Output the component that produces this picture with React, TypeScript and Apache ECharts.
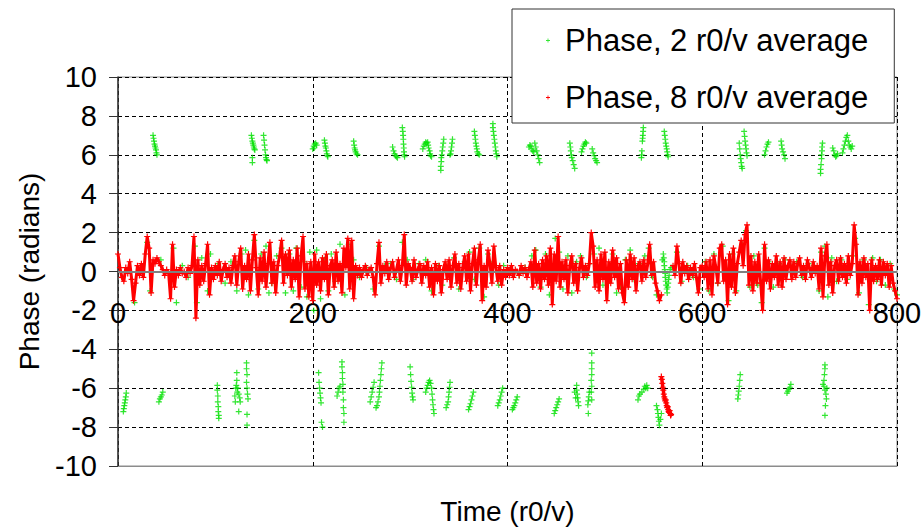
import React, { useEffect, useRef } from 'react';
import * as echarts from 'echarts';

const seriesNames = ['Phase, 2 r0/v average', 'Phase, 8 r0/v average'];
const xAxisTitle = 'Time (r0/v)';
const yAxisTitle = 'Phase (radians)';

// 8 r0/v average, sampled every 2 r0/v starting at t = 0 ('-' = phase wrapped, see redWrapped)
const redStart = 0;
const redStep = 2;
const redPhase: (number | string)[] = [
  0.9, 0.2, -0.3, -0.5, 0.2, -0.1, 0.5, -0.4, -1.5, -0.6,
  0.3, -0.2, 0.4, -0.3, 0.9, 1.8, 1.2, -1.1, 0.6, 0.4,
  0.7, 0.5, 0.3, 0.1, -0.2, 0.1, -0.1, -1.4, 1.4, -0.8,
  0.1, -0.2, 0.2, -0.1, 0.0, -0.3, 0.2, -0.1, 0.3, 1.8,
  -2.4, 0.6, -0.7, 0.3, -0.5, 0.4, 1.4, -1.2, 0.2, -0.4,
  0.3, -0.2, 0.5, -0.5, 0.1, 0.4, -0.3, 0.2, -0.6, 0.3,
  0.8, -0.7, 0.5, 1.2, -0.9, 0.3, -0.4, 0.9, -1.0, 0.6,
  1.9, 0.2, -1.2, 0.7, -0.5, 1.0, -0.8, 0.4, 1.5, -0.6,
  0.5, -1.1, 0.3, 0.8, 1.6, -0.6, 0.9, -0.2, 1.1, -0.8,
  0.6, -0.4, 1.2, -1.3, 0.8, 1.8, -0.9, 0.4, -1.3, 0.5,
  -1.5, 0.9, -0.7, 0.5, -1.0, 0.7, -0.4, 0.9, -1.2, 0.3,
  0.6, -0.8, 1.0, -0.5, 0.4, -1.1, 1.2, 0.2, 1.7, -0.9,
  1.6, -1.4, 0.3, -0.2, 0.2, -0.3, 0.1, 0.3, -0.2, 0.1,
  0.2, -0.3, -1.2, 0.4, 1.5, -0.6, 0.3, -0.1, 0.5, -0.4,
  0.2, 0.5, -0.3, 0.1, 0.6, -0.5, 0.3, 1.9, -0.7, 0.4,
  0.2, -0.5, 0.6, -0.3, 0.1, 0.4, -0.6, 0.3, -0.2, 0.5,
  -0.8, 0.2, -1.2, 0.4, -0.5, 0.3, -1.1, 0.1, 0.5, -0.4,
  0.6, -0.8, 0.3, 0.9, -0.6, 0.4, -0.9, 0.2, 0.8, -0.5,
  0.9, -1.0, 0.4, 1.2, -0.7, 0.6, 1.4, -1.5, 0.3, -0.8,
  1.1, 0.4, -0.6, 1.3, 0.2, -0.5, 0.3, -0.7, 0.1, -0.3,
  0.2, -0.2, 0.3, -0.3, 0.1, 0.0, -0.2, 0.3, -0.1, 0.2,
  -0.3, 0.1, 0.5, -0.8, 1.1, -0.6, 0.4, -0.9, 0.6, -0.4,
  0.8, -0.7, 1.2, -1.7, 0.9, -0.5, 1.8, -0.8, 0.5, -0.4,
  0.6, -1.1, 0.3, 0.8, -0.6, 0.4, -1.0, 0.2, 0.7, -0.3,
  0.3, -0.2, 0.4, 2.0, 1.3, -0.8, 0.6, -1.0, 0.9, -0.4,
  1.0, -1.5, 0.5, -0.6, 1.1, -0.3, 0.7, -0.9, 0.4, -1.1,
  -1.6, 0.6, -0.8, 0.9, -0.4, 0.7, -1.0, 0.3, 0.5, -0.5,
  0.6, -0.3, 0.4, 1.4, -0.2, 0.5, -0.6, -1.0, -1.5, -1.2,
  '-', '-', '-', '-', '-', 0.3, -0.2, 1.3, 0.4, -0.6,
  0.5, -0.1, 0.3, -0.4, 0.2, -0.2, 0.4, -0.3, -1.1, 0.2,
  0.3, -0.3, 0.5, -0.9, 0.6, -1.2, 0.8, 0.2, -0.6, 1.2,
  1.4, -0.5, 0.6, -1.7, 0.9, -0.8, 1.2, -1.1, 0.4, 1.0,
  1.6, 0.3, 1.9, 2.4, -0.7, 0.8, -1.0, 0.5, -0.6, 0.9,
  -0.6, -2.0, 1.4, -0.5, 0.6, -0.9, 0.4, -0.3, 0.8, -0.7,
  0.5, -0.8, 0.7, -0.4, 0.3, 0.6, -0.4, 0.5, -0.3, 0.4,
  0.7, -0.2, 0.3, -0.4, 0.6, 0.2, -0.3, 0.5, -0.1, 0.3,
  -0.9, 1.2, -1.3, 0.8, 1.4, -0.7, 0.5, -1.1, 0.3, 0.6,
  -0.5, 0.7, -0.3, 0.4, -0.6, 0.8, -0.2, 0.4, 2.4, 1.4,
  -1.2, 0.5, -0.6, 0.7, -0.3, 0.4, -2.0, 0.6, -0.5, 0.3,
  -0.4, 0.6, -0.7, 0.5, -0.2, 0.4, -0.8, 0.3, -0.6, -1.0,
  -1.4,
];

// 8 r0/v average where the phase wrapped below -pi
const redWrapped: [number, number][] = [
  [558, -5.4], [558.5, -5.55], [559, -5.75], [559.5, -5.95], [560, -6.1], [560.5, -6.3], [561, -6.45],
  [561.5, -6.55], [562, -6.65], [562.5, -6.6], [563, -6.75], [563.5, -6.9], [564, -7.0], [564.5, -6.95],
  [565, -7.1], [565.5, -7.2], [566, -7.25], [566.5, -7.15], [567, -7.3], [567.5, -7.4], [568, -7.35],
];

// 2 r0/v average, points near zero that show around the red band
const greenNearZero: [number, number][] = [
  [17, -1.6], [30, 1.5], [33, -1.0], [44, 0.6], [57, 1.2], [60, -1.6], [66, 0.3], [72, -0.3], [79, 1.3], [81, -1.6],
  [86, 0.7], [92, -1.0], [95, 0.9], [103, 0.4], [110, -0.6], [116, 0.5], [122, -1.0], [127, 0.9], [131, 1.1], [134, -1.2],
  [140, 1.6], [144, -0.9], [147, 0.9], [152, 1.3], [155, -1.1], [158, -0.6], [163, 0.8], [168, 1.2], [172, -1.1], [176, 0.9],
  [180, -1.0], [183, 1.2], [188, -0.8], [191, 0.5], [194, -1.3], [197, 1.0], [201, -2.0], [204, 1.1], [208, -1.4], [212, 0.6],
  [216, -1.0], [219, 0.9], [223, -0.5], [228, 1.4], [233, -1.2], [237, 1.4], [242, 0.6], [248, -0.3], [255, 0.2], [262, -0.9],
  [268, 1.3], [274, 0.3], [280, 0.4], [286, -0.4], [292, 1.5], [297, 0.6], [303, -0.4], [309, 0.4], [316, 0.6], [322, -1.0],
  [329, 0.3], [333, -0.7], [339, 0.3], [345, 0.7], [350, -0.9], [356, 0.5], [361, 1.0], [366, -0.4], [371, 1.2], [376, -1.3],
  [380, 0.9], [384, 0.4], [391, -0.7], [396, 0.3], [404, 0.1], [412, -0.2], [418, 0.2], [425, 0.8], [429, 1.1], [434, -0.8],
  [439, 0.9], [443, -1.2], [449, 1.7], [453, 1.0], [457, -0.9], [462, 0.8], [466, -1.1], [471, 0.5], [475, 0.8], [481, -0.3],
  [484, 0.4], [489, 0.9], [494, 1.2], [498, -0.7], [503, -0.6], [508, 0.9], [512, -1.1], [516, -0.8], [521, 0.6], [526, 1.1],
  [530, -0.4], [535, 0.4], [541, 0.8], [545, 1.2], [549, -0.3], [553, -1.2],
  [559, 0.6], [560, 0.9], [560.5, 0.7], [561, 0.5], [561, 0.3], [561.5, 0.1], [562, -0.1], [562, -0.3], [562.5, -0.5],
  [563, -0.7], [563.5, -0.9], [564, -1.1], [564.5, -0.8], [565, -0.6], [565.5, -0.4], [566, -0.2], [567, 0.1], [568, 0.2],
  [574, 1.0], [579, -0.5], [585, 0.3], [591, -0.3], [597, -0.9], [603, 0.5], [607, -1.0], [612, 0.9], [616, -0.6], [621, 1.3],
  [627, -1.5], [631, 0.9], [635, -1.0], [641, 1.4], [645, 2.1], [649, -0.8], [653, 0.8], [657, -0.7], [661, -1.6], [664, 1.2],
  [668, 0.5], [673, -0.8], [679, 0.4], [685, 0.6], [691, 0.3], [697, 0.5], [703, -0.3], [709, 0.4], [715, 0.3], [720, -1.0],
  [722, 1.0], [726, 1.3], [729, -1.3], [733, 0.7], [738, -0.5], [743, 0.6], [749, -0.4], [755, 0.8], [757, 1.7], [761, -1.1],
  [766, 0.6], [771, -1.7], [775, 0.7], [779, -0.5], [783, 0.6], [788, -0.7], [793, 0.4], [797, -0.9], [800, -1.2],
];

// 2 r0/v average, phase wrapped above +pi
const greenUpper: [number, number][] = [
  [36, 7.0], [36.5, 6.85], [37, 6.7], [37.5, 6.55], [38, 6.45], [38.5, 6.35], [39, 6.25], [39.5, 6.1], [40, 6.0],
  [137, 7.0], [137.5, 6.85], [138, 6.7], [138.5, 6.6], [139, 6.5], [139.5, 6.4], [140, 6.3], [140.5, 6.25], [138, 5.85], [138, 5.6],
  [149.5, 7.0], [150, 6.75], [150.5, 6.5], [151, 6.25], [151.5, 6.0], [152, 5.85], [152.5, 5.75], [153, 5.7],
  [200, 6.3], [201, 6.45], [202, 6.55], [203, 6.6], [204, 6.5], [201.5, 6.35],
  [212, 6.75], [212.5, 6.6], [213, 6.45], [213.5, 6.35], [214, 6.2], [214.5, 6.05], [215, 5.95], [215.5, 5.9],
  [242, 6.7], [242.5, 6.5], [243, 6.35], [243.5, 6.25], [244, 6.15], [245, 6.05], [246, 6.0],
  [282, 6.4], [283, 6.2], [284, 6.05], [285, 5.95], [286, 5.9], [287, 5.85],
  [292, 7.4], [292.5, 7.2], [292.8, 7.0], [293, 6.8], [293.2, 6.55], [293.5, 6.35], [293.7, 6.15], [294, 6.0], [294.3, 5.9],
  [313, 6.3], [314, 6.45], [315, 6.55], [316, 6.65], [317, 6.6],
  [318, 6.65], [318.5, 6.5], [319, 6.35], [320, 6.2], [320.5, 6.05], [321, 5.95], [322, 5.9],
  [334.5, 6.8], [334, 6.6], [333.5, 6.4], [333, 6.2], [332.5, 6.0], [332, 5.85], [332, 5.65], [331.5, 5.4], [331.5, 5.2],
  [343.5, 6.8], [343, 6.6], [342.5, 6.4], [342, 6.2], [341.5, 6.05], [341, 6.0],
  [366, 7.2], [366.5, 7.0], [367, 6.8], [367.5, 6.6], [368, 6.45], [368.5, 6.3], [369, 6.15], [370, 6.05], [371, 6.0],
  [385, 7.6], [385, 7.4], [385.5, 7.2], [386, 7.0], [386.5, 6.8], [387, 6.6], [387.5, 6.4], [388, 6.2], [388.5, 6.05], [389, 5.9],
  [422, 6.4], [423, 6.5], [424, 6.45], [425, 6.3], [426, 6.2], [427, 6.15], [428, 6.6], [429, 6.4], [430, 6.2], [431, 6.0], [432, 5.8], [433, 5.6],
  [464, 6.6], [464.5, 6.4], [465, 6.2], [465.5, 6.0], [466, 5.85], [467, 5.7], [468, 5.5], [469, 5.3],
  [476, 6.15], [477, 6.3], [478, 6.45], [479, 6.55], [480, 6.65], [481, 6.6],
  [487, 6.3], [488, 6.1], [489, 5.95], [490, 5.8], [491, 5.7], [492, 5.6],
  [539.5, 7.4], [539.3, 7.2], [539, 7.0], [538.8, 6.85], [538.5, 6.7], [538, 6.2], [537.8, 6.0], [537.5, 5.85],
  [561, 7.2], [561.5, 7.0], [562, 6.8], [562.5, 6.6], [563, 6.45], [563.5, 6.3], [564, 6.15], [564.5, 6.0], [565, 5.9],
  [638, 6.6], [638.5, 6.3], [639, 6.0], [639.5, 5.8], [640, 5.6], [640.5, 5.4], [641, 5.3],
  [643, 7.2], [643.5, 6.95], [644, 6.7], [644.5, 6.5], [645, 6.3], [645.5, 6.1], [646, 5.95],
  [664, 6.0], [665, 6.2], [666, 6.4], [667, 6.55], [668, 6.65],
  [681, 6.7], [681.5, 6.5], [682, 6.3], [683, 6.15], [684, 6.0], [685, 5.8],
  [723.5, 6.6], [723, 6.4], [723, 6.2], [722.5, 6.0], [722.5, 5.8], [722, 5.5], [721.5, 5.25], [721.5, 5.05],
  [734, 6.35], [735, 6.2], [736, 6.0], [737, 5.9], [738, 5.95], [739, 6.05],
  [744, 6.1], [745, 6.3], [746, 6.5], [747, 6.7], [748, 6.9], [749, 7.0], [750, 6.7], [751, 6.5], [752, 6.4], [753, 6.3], [754, 6.45],
];

// 2 r0/v average, phase wrapped below -pi
const greenLower: [number, number][] = [
  [8.5, -6.25], [8, -6.45], [7.5, -6.6], [7, -6.75], [6.5, -6.9], [6, -7.05], [5.5, -7.2],
  [46, -6.2], [45, -6.35], [44, -6.45], [43, -6.55], [42, -6.7],
  [102, -5.85], [102, -6.1], [102.5, -6.4], [102.5, -6.7], [103, -6.95], [103, -7.2], [103.5, -7.4], [103.5, -7.55],
  [122, -5.2], [122, -5.6], [121.5, -5.85], [121, -6.0], [122.5, -6.2], [123, -6.0], [124, -6.3], [125, -6.5], [125.5, -6.7], [124, -7.2], [120, -6.4], [120.5, -6.7],
  [132, -4.7], [132, -5.0], [132.5, -5.3], [132, -5.7], [132.5, -6.0], [133, -6.3], [133.5, -6.55], [132.5, -7.35], [132.5, -7.9],
  [206, -5.2], [206.5, -5.7], [207, -6.0], [207.5, -6.25], [208, -6.5], [208.5, -6.75], [209, -7.75], [210, -8.0],
  [225, -6.4], [226, -6.2], [227, -6.0], [228, -5.9],
  [230, -4.65], [230, -4.9], [230.5, -5.2], [230.5, -5.5], [231, -5.8], [231, -6.2], [231.5, -6.6], [231.5, -7.0], [232, -7.3], [232, -7.75],
  [263, -5.7], [262, -5.95], [261, -6.2], [260, -6.45], [259, -6.7],
  [271, -4.7], [270.5, -5.0], [270, -5.3], [269.5, -5.6], [269, -5.9], [268.5, -6.2], [268, -6.45], [267, -6.7], [266, -6.9], [265, -7.0],
  [300, -4.9], [300.5, -5.3], [301, -5.65], [301.5, -5.95], [302, -6.25], [302.5, -6.45], [303, -6.6],
  [316, -6.2], [317, -6.0], [318, -5.85], [319, -5.7], [320, -5.6], [321, -5.75],
  [322, -6.0], [322.5, -6.3], [323, -6.6], [323.5, -6.85], [324, -7.1], [324.5, -7.3],
  [341, -5.7], [340.5, -5.95], [340, -6.2], [339.5, -6.45], [339, -6.7], [338, -6.85], [337, -7.0],
  [365, -6.2], [364, -6.4], [363, -6.6], [362, -6.8], [361, -6.95], [360, -7.1],
  [395, -6.0], [394, -6.2], [393, -6.4], [392, -6.6], [391, -6.75], [390, -6.9],
  [410, -6.45], [409, -6.6], [408, -6.75], [407, -6.9], [406, -7.0], [405, -7.1],
  [453, -6.55], [452, -6.7], [451, -6.85], [450, -7.0], [449, -7.15], [448, -7.3],
  [471, -5.85], [471, -6.1], [471.5, -6.3], [472, -6.5], [472.5, -6.7], [473, -6.9], [469, -6.2], [470, -6.5],
  [484, -6.2], [483.5, -6.45], [483, -6.65], [482.5, -6.85], [483, -7.3],
  [486.5, -4.2], [486.5, -4.7], [486.5, -5.0], [486.5, -5.3], [486, -5.6], [486.5, -5.9], [486, -6.2], [486.5, -6.6],
  [534, -6.6], [535, -6.4], [536, -6.3], [538, -6.2], [540, -6.05], [541, -5.9], [542, -6.0], [543, -5.85], [544, -6.0],
  [553, -6.9], [554, -7.1], [554.5, -7.3], [555, -7.5], [555.5, -7.7], [556, -7.9], [557, -7.6], [558, -7.3],
  [639, -5.3], [638.5, -5.6], [638, -5.9], [637.5, -6.15], [637, -6.35], [636.5, -6.55],
  [691, -5.8], [690, -5.95], [689, -6.05], [688, -6.15], [687, -6.25],
  [726, -4.8], [726, -5.0], [725.5, -5.3], [725, -5.6], [725, -5.9], [726, -6.1], [727, -6.3], [727.5, -6.55], [726.5, -6.9], [726, -7.4], [724, -5.8], [728, -6.0],
];

const PLUS = 'path://M2,0H3V2H5V3H3V5H2V3H0V2H2Z';
const GREEN = '#00e000';
const RED = '#ff0000';
const FONT = '"Liberation Sans", Arial, Helvetica, sans-serif';

export default function App() {
  const ref = useRef<HTMLDivElement>(null);

  useEffect(() => {
    if (!ref.current) return;
    const chart = echarts.init(ref.current, undefined, { renderer: 'svg' });
    const redData = redPhase.map((v, i) => [redStart + i * redStep, v]);
    const dash = { color: '#000000', type: [4, 3] as number[], width: 1 };
    const greenCommon = {
      type: 'scatter',
      name: seriesNames[0],
      symbol: PLUS,
      symbolSize: 6,
      itemStyle: { color: GREEN },
      silent: true,
    };
    const redCommon = {
      type: 'line',
      name: seriesNames[1],
      symbol: PLUS,
      symbolSize: 6,
      showSymbol: true,
      showAllSymbol: true,
      connectNulls: false,
      itemStyle: { color: RED },
      lineStyle: { color: RED, width: 3 },
      silent: true,
    };
    chart.setOption({
      animation: false,
      backgroundColor: '#ffffff',
      textStyle: { fontFamily: FONT },
      grid: {
        left: 118, right: 25, top: 77, bottom: 64,
        containLabel: false,
        outerBoundsMode: 'none',
        show: true, borderColor: '#8c8c8c', borderWidth: 1,
      },
      legend: {
        data: seriesNames,
        orient: 'vertical',
        left: 512,
        top: 9,
        icon: PLUS,
        itemWidth: 4,
        itemHeight: 4,
        itemGap: 26,
        padding: [16, 26, 10, 34],
        backgroundColor: '#ffffff',
        borderColor: '#333333',
        borderWidth: 1,
        borderRadius: 0,
        selectedMode: false,
        textStyle: { fontSize: 31, color: '#000000', fontFamily: FONT, lineHeight: 31, padding: [0, 0, 0, 10] },
      },
      xAxis: {
        type: 'value', min: 0, max: 800, interval: 200,
        position: 'bottom',
        name: xAxisTitle, nameLocation: 'middle', nameGap: 31,
        nameTextStyle: { fontSize: 28, color: '#000000', fontFamily: FONT },
        axisLine: { show: true, onZero: false, lineStyle: { color: '#8c8c8c', width: 1 } },
        axisTick: { show: false },
        axisLabel: { fontSize: 29, color: '#000000', margin: -168, fontFamily: FONT, showMinLabel: true, showMaxLabel: true, hideOverlap: false },
        splitLine: { show: true, lineStyle: dash },
      },
      yAxis: {
        type: 'value', min: -10, max: 10, interval: 2,
        name: yAxisTitle, nameLocation: 'middle', nameGap: 75,
        nameTextStyle: { fontSize: 28, color: '#000000', fontFamily: FONT },
        axisLine: { show: true, onZero: false, lineStyle: { color: '#333333', width: 1.5 } },
        axisTick: { show: true, inside: false, length: 9, lineStyle: { color: '#333333', width: 1 } },
        axisLabel: { fontSize: 29, color: '#000000', margin: 21, fontFamily: FONT, showMinLabel: true, showMaxLabel: true, hideOverlap: false },
        splitLine: { show: true, lineStyle: dash },
      },
      series: [
        {
          ...greenCommon,
          data: greenNearZero,
          markLine: {
            silent: true,
            symbol: 'none',
            label: { show: false },
            lineStyle: { color: '#808080', type: 'solid', width: 2 },
            data: [{ yAxis: 0 }],
          },
        },
        { ...greenCommon, data: greenUpper },
        { ...greenCommon, data: greenLower },
        { ...redCommon, data: redData },
        { ...redCommon, data: redWrapped, lineStyle: { color: RED, width: 3.5 } },
      ],
    });
    return () => chart.dispose();
  }, []);

  return (
    <div
      ref={ref}
      style={{ position: 'fixed', left: 0, top: 0, width: 922, height: 530, background: '#ffffff' }}
    />
  );
}
